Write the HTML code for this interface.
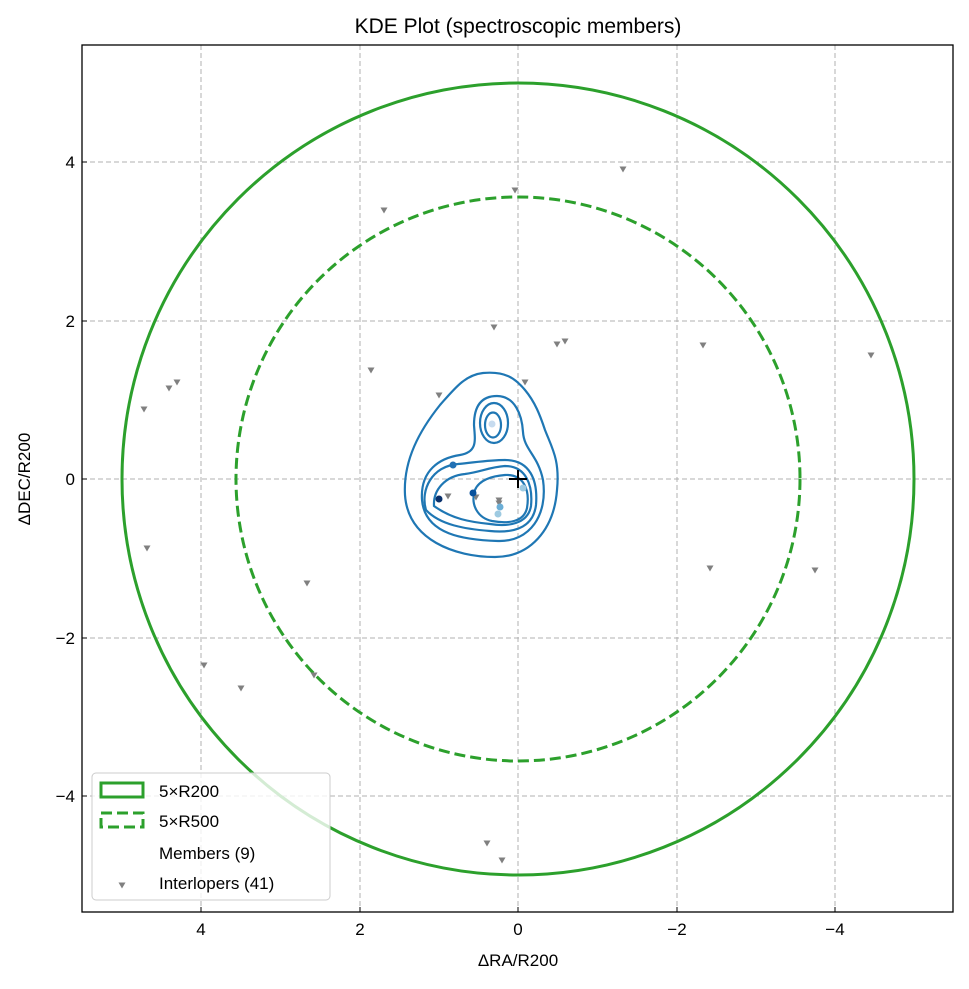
<!DOCTYPE html><html><head><style>body{margin:0;background:#fff}text{font-family:"Liberation Sans","DejaVu Sans",sans-serif;fill:#000}</style></head><body>
<svg width="969" height="984" xmlns="http://www.w3.org/2000/svg">
<defs><clipPath id="c"><rect x="82" y="45" width="871" height="867"/></clipPath><path id="t" d="M-3.5,-2.5 L3.5,-2.5 L0,3.5Z" fill="#808080"/></defs>
<text x="518" y="33" font-size="21" text-anchor="middle">KDE Plot (spectroscopic members)</text>
<g stroke="#b0b0b0" stroke-dasharray="5,3" stroke-width="1">
<line x1="201" y1="45" x2="201" y2="912"/><line x1="360" y1="45" x2="360" y2="912"/><line x1="518" y1="45" x2="518" y2="912"/><line x1="677" y1="45" x2="677" y2="912"/><line x1="835" y1="45" x2="835" y2="912"/>
<line x1="82" y1="162" x2="953" y2="162"/><line x1="82" y1="321" x2="953" y2="321"/><line x1="82" y1="479" x2="953" y2="479"/><line x1="82" y1="638" x2="953" y2="638"/><line x1="82" y1="796" x2="953" y2="796"/>
</g>
<g clip-path="url(#c)">
<circle cx="518" cy="479" r="396" fill="none" stroke="#2ca02c" stroke-width="3"/>
<circle cx="518" cy="479" r="282" fill="none" stroke="#2ca02c" stroke-width="3" stroke-dasharray="11,5"/>
<g fill="none" stroke="#1f77b4" stroke-width="2.2">
<path d="M483 373 C505 371,515 378,525 390 C535 402,540 415,545 430 C552 448,560 460,557 490 C554 530,530 557,495 557 C455 557,408 540,405 495 C403 460,420 430,440 405 C455 388,465 375,483 373Z"/>
<path d="M497 396 C515 396,522 415,523 432 C524 450,538 455,543 480 C548 515,530 542,498 541 C465 540,425 535,422 500 C420 470,440 458,460 455 C478 452,475 440,474 425 C474 405,482 396,497 396Z"/>
<ellipse cx="494" cy="423" rx="14" ry="20"/><ellipse cx="493" cy="425" rx="8" ry="12.5"/>
<path d="M505 460 C530 460,538 480,536 505 C533 530,510 533,490 531 C465 529,440 525,426 510 C420 490,432 466,458 464 C478 462,490 460,505 460Z"/>
<path d="M505 466 C526 466,533 485,531 506 C528 524,508 527,490 524 C470 522,452 519,434 506 C433 490,445 476,465 474 C480 472,490 467,505 466Z"/>
<path d="M505 475 C524 474,530 490,527 508 C524 522,508 524,492 521 C478 518,470 505,475 490 C479 480,492 476,505 475Z"/>
</g>
</g>
<g>
<use href="#t" x="515" y="190"/><use href="#t" x="623" y="169"/><use href="#t" x="384" y="210"/><use href="#t" x="494" y="327"/><use href="#t" x="557" y="344"/><use href="#t" x="565" y="341"/><use href="#t" x="703" y="345"/><use href="#t" x="871" y="355"/><use href="#t" x="371" y="370"/><use href="#t" x="177" y="382"/><use href="#t" x="169" y="388"/><use href="#t" x="144" y="409"/><use href="#t" x="439" y="395"/><use href="#t" x="525" y="382"/><use href="#t" x="147" y="548"/><use href="#t" x="710" y="568"/><use href="#t" x="815" y="570"/><use href="#t" x="307" y="583"/><use href="#t" x="204" y="665"/><use href="#t" x="241" y="688"/><use href="#t" x="314" y="675"/><use href="#t" x="487" y="843"/><use href="#t" x="502" y="860"/><use href="#t" x="499" y="500"/><use href="#t" x="448" y="496"/><use href="#t" x="476" y="497"/><use href="#t" x="499" y="503"/>
</g>
<g><circle cx="453" cy="465" r="3.5" fill="#2171b5"/><circle cx="439" cy="499" r="3.5" fill="#08306b"/><circle cx="473" cy="493" r="3.5" fill="#08519c"/><circle cx="500" cy="507" r="3.5" fill="#6baed6"/><circle cx="498" cy="514" r="3.5" fill="#9ecae1"/><circle cx="492" cy="424" r="3.5" fill="#c6dbef"/><circle cx="523" cy="488" r="3.5" fill="#9ecae1"/></g>
<g stroke="#000" stroke-width="2"><line x1="509" y1="479" x2="527" y2="479"/><line x1="518" y1="470" x2="518" y2="488"/></g>
<rect x="82" y="45" width="871" height="867" fill="none" stroke="#000" stroke-width="1.3"/>
<g stroke="#000" stroke-width="1"><line x1="201" y1="912" x2="201" y2="907"/><line x1="360" y1="912" x2="360" y2="907"/><line x1="518" y1="912" x2="518" y2="907"/><line x1="677" y1="912" x2="677" y2="907"/><line x1="835" y1="912" x2="835" y2="907"/>
<line x1="82" y1="162" x2="87" y2="162"/><line x1="82" y1="321" x2="87" y2="321"/><line x1="82" y1="479" x2="87" y2="479"/><line x1="82" y1="638" x2="87" y2="638"/><line x1="82" y1="796" x2="87" y2="796"/></g>
<g font-size="17"><text x="201" y="935" text-anchor="middle">4</text><text x="360" y="935" text-anchor="middle">2</text><text x="518" y="935" text-anchor="middle">0</text><text x="677" y="935" text-anchor="middle">−2</text><text x="835" y="935" text-anchor="middle">−4</text>
<text x="75" y="168" text-anchor="end">4</text><text x="75" y="327" text-anchor="end">2</text><text x="75" y="485" text-anchor="end">0</text><text x="75" y="644" text-anchor="end">−2</text><text x="75" y="802" text-anchor="end">−4</text></g>
<text x="518" y="966" font-size="17" text-anchor="middle">ΔRA/R200</text>
<text x="30" y="479" font-size="17" text-anchor="middle" transform="rotate(-90 30 479)">ΔDEC/R200</text>
<rect x="92" y="773" width="238" height="127" rx="4" fill="#fff" fill-opacity="0.8" stroke="#ccc"/>
<rect x="101" y="783" width="42" height="14" fill="none" stroke="#2ca02c" stroke-width="3"/>
<rect x="101" y="813" width="42" height="14" fill="none" stroke="#2ca02c" stroke-width="3" stroke-dasharray="11,5"/>
<use href="#t" x="122" y="885"/>
<g font-size="17"><text x="159" y="797">5×R200</text><text x="159" y="827">5×R500</text><text x="159" y="859">Members (9)</text><text x="159" y="889">Interlopers (41)</text></g>
</svg></body></html>
